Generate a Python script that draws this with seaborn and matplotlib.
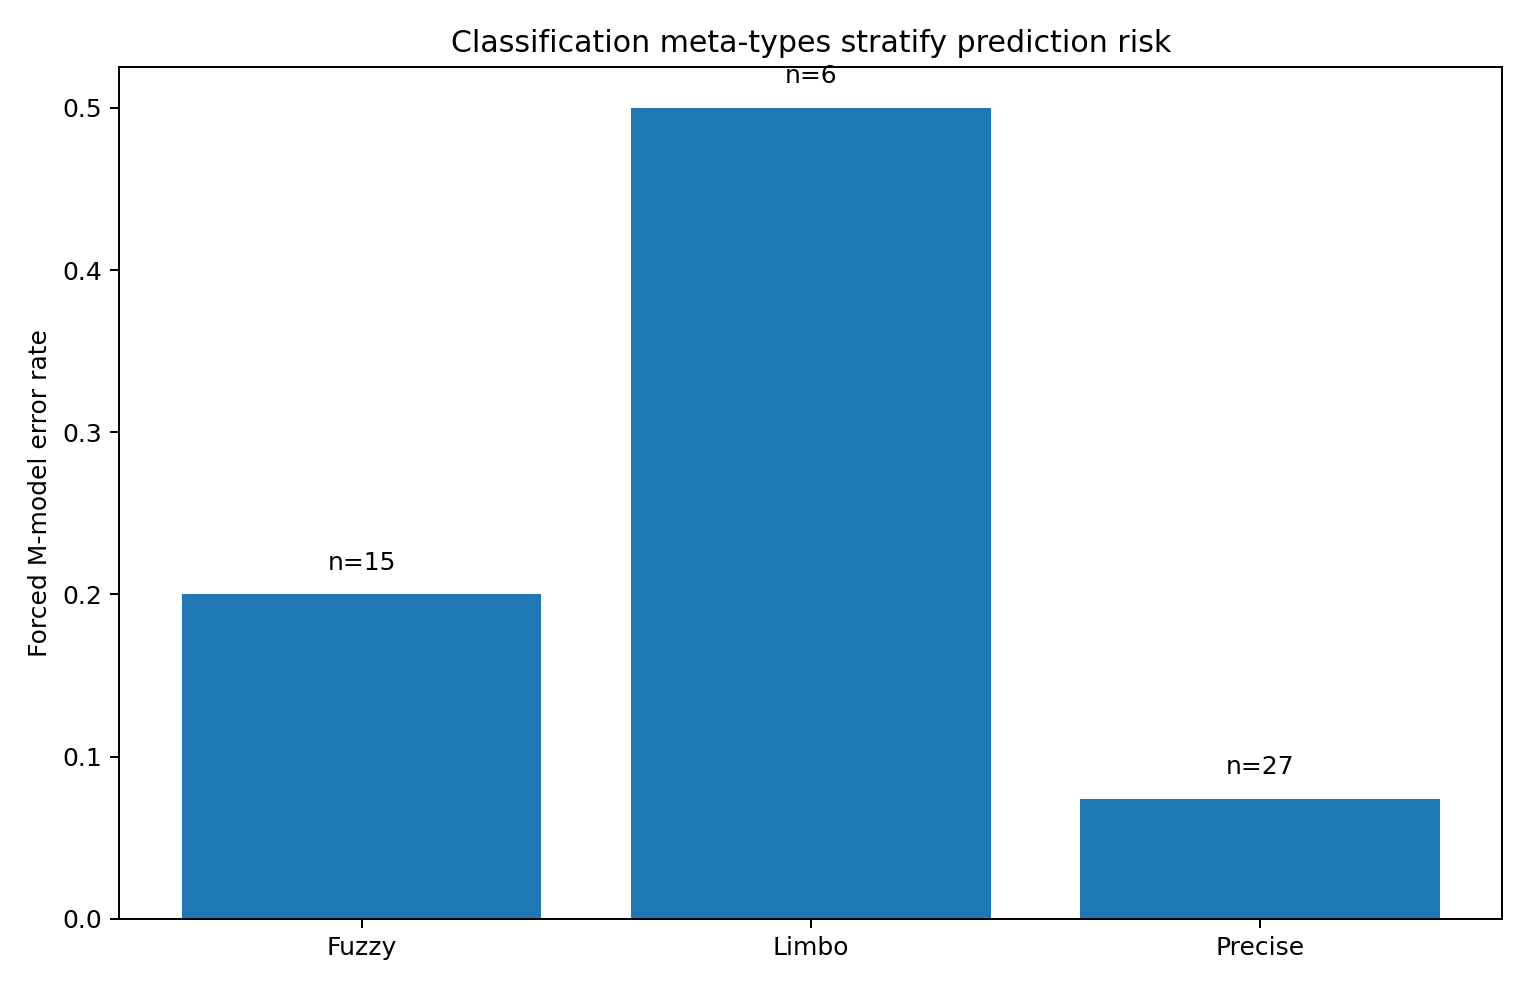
import matplotlib
matplotlib.use("Agg")
import matplotlib.pyplot as plt
import seaborn as sns
import pandas as pd

categories = ["Fuzzy", "Limbo", "Precise"]
error_rates = [3 / 15, 3 / 6, 2 / 27]
counts = [15, 6, 27]

df = pd.DataFrame({"meta": categories, "rate": error_rates})

fig, ax = plt.subplots(figsize=(8.5, 5.5), dpi=180)
sns.barplot(data=df, x="meta", y="rate", color="#1f77b4", saturation=1,
            width=0.8, ax=ax)
for i, (v, n) in enumerate(zip(error_rates, counts)):
    ax.text(i, v + 0.012, f"n={n}", ha="center", va="bottom", fontsize=10)

ax.set_xlim(-0.54, 2.54)
ax.set_ylim(0, 0.525)
ax.set_xlabel("")
ax.set_ylabel("Forced M-model error rate")
ax.set_title("Classification meta-types stratify prediction risk")
fig.subplots_adjust(left=0.078, right=0.982, top=0.932, bottom=0.072)
fig.savefig("out.png", dpi=180)
